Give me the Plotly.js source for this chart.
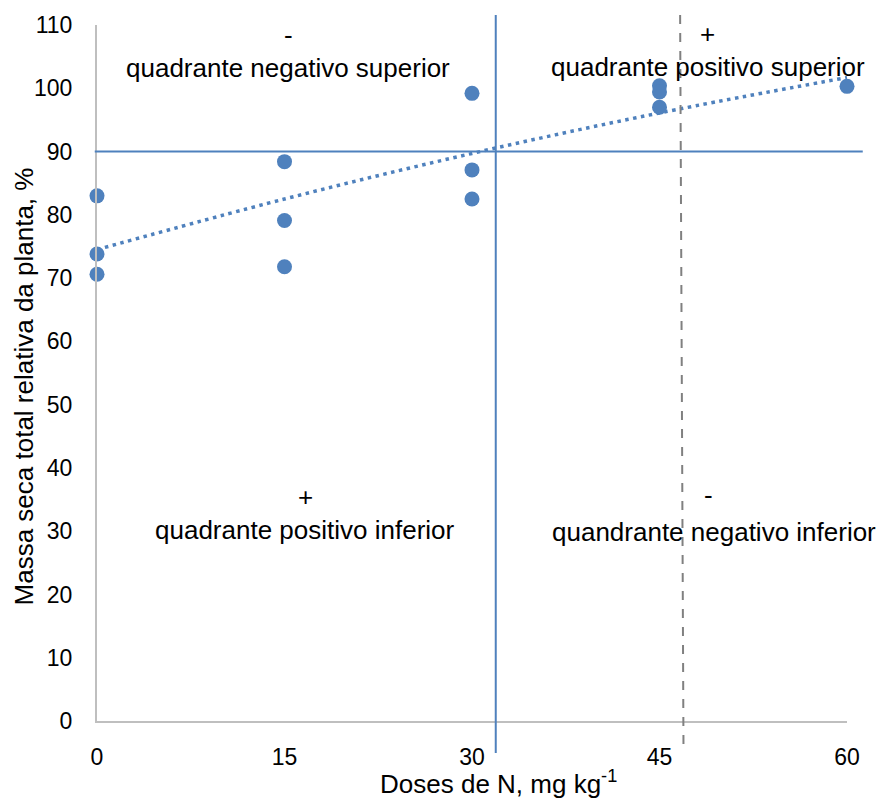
<!DOCTYPE html>
<html>
<head>
<meta charset="utf-8">
<script src="https://cdn.plot.ly/plotly-3.0.1.min.js"></script>
<style>html,body{margin:0;padding:0;background:#fff;}#chart{width:880px;height:798px;}</style>
</head>
<body>
<div id="chart"></div>
<script>
// Observed points
const doses = [0, 0, 0, 15, 15, 15, 30, 30, 30, 45, 45, 45, 60];
const massa = [83.0, 73.8, 70.6, 88.4, 79.1, 71.8, 99.2, 87.1, 82.5, 100.4, 99.4, 97.0, 100.3];
// Trendline
const trendX = [0, 15, 30, 45, 60];
const trendY = [74.5, 82.5, 89.7, 96.1, 101.7];
// Reference lines
const nCritico = 31.9;      // solid vertical line
const nDashed = [46.65, 46.92]; // dashed vertical line (top, bottom)
const massaCritica = 90;    // horizontal line
const xTicks = [0, 15, 30, 45, 60];
const yTicks = [0, 10, 20, 30, 40, 50, 60, 70, 80, 90, 100, 110];

const FONT = 'Liberation Sans, Arial, sans-serif';
const BLUE = '#4F81BD';

const traces = [
  {
    x: trendX, y: trendY, type: 'scatter', mode: 'lines',
    line: {color: BLUE, width: 3.5, dash: '3.5px,4.5px', shape: 'spline'},
    hoverinfo: 'skip', showlegend: false
  },
  {
    x: doses, y: massa, type: 'scatter', mode: 'markers',
    marker: {color: BLUE, size: 15},
    cliponaxis: false, showlegend: false
  }
];

const labels = [
  {x: 15.28, y: 108.4, text: '-'},
  {x: 15.28, y: 103.2, text: 'quadrante negativo superior'},
  {x: 48.8, y: 108.6, text: '+'},
  {x: 48.84, y: 103.4, text: 'quadrante positivo superior'},
  {x: 16.64, y: 35.4, text: '+'},
  {x: 16.64, y: 30.2, text: 'quadrante positivo inferior'},
  {x: 48.9, y: 35.7, text: '-'},
  {x: 49.36, y: 29.9, text: 'quandrante negativo inferior'}
];
const annotations = labels.map(l => ({
  x: l.x, y: l.y, xref: 'x', yref: 'y', text: l.text, showarrow: false,
  xanchor: 'center', yanchor: 'middle', font: {family: FONT, size: 26, color: '#000'}
}));
annotations.push({
  xref: 'paper', yref: 'paper', x: 0.535, y: -0.088, xanchor: 'center', yanchor: 'middle',
  text: 'Doses de N, mg kg<sup>-1</sup>', showarrow: false,
  font: {family: FONT, size: 26, color: '#000'}
});
annotations.push({
  xref: 'paper', yref: 'paper', x: -0.097, y: 0.481, xanchor: 'center', yanchor: 'middle',
  text: 'Massa seca total relativa da planta, %', textangle: -90, showarrow: false,
  font: {family: FONT, size: 26, color: '#000'}
});

const layout = {
  width: 880, height: 798,
  margin: {l: 97, r: 33, t: 25, b: 77},
  paper_bgcolor: '#fff', plot_bgcolor: '#fff',
  font: {family: FONT, size: 23, color: '#000'},
  xaxis: {
    range: [0, 60], tickvals: xTicks, ticktext: xTicks.map(String),
    showgrid: false, zeroline: false, showline: true, linecolor: '#BFBFBF', linewidth: 2,
    ticks: '', ticklabelstandoff: 14, tickfont: {family: FONT, size: 23, color: '#000'}
  },
  yaxis: {
    range: [0, 110], tickvals: yTicks, ticktext: yTicks.map(String),
    showgrid: false, zeroline: false, showline: true, linecolor: '#BFBFBF', linewidth: 2,
    ticks: '', ticklabelstandoff: 18, tickfont: {family: FONT, size: 23, color: '#000'}
  },
  shapes: [
    {type: 'line', xref: 'x', yref: 'paper', x0: nCritico, x1: nCritico, y0: -0.046, y1: 1.0144,
     line: {color: BLUE, width: 2}, layer: 'above'},
    {type: 'line', xref: 'x', yref: 'paper', x0: nDashed[0], x1: nDashed[1], y0: 1.0144, y1: -0.042,
     line: {color: '#808080', width: 2, dash: 'dash'}, layer: 'above'},
    {type: 'line', xref: 'paper', yref: 'y', x0: -0.003, x1: 1.021, y0: massaCritica, y1: massaCritica,
     line: {color: BLUE, width: 2}, layer: 'above'}
  ],
  annotations: annotations,
  showlegend: false
};

Plotly.newPlot('chart', traces, layout, {displayModeBar: false, staticPlot: true});
</script>
</body>
</html>
